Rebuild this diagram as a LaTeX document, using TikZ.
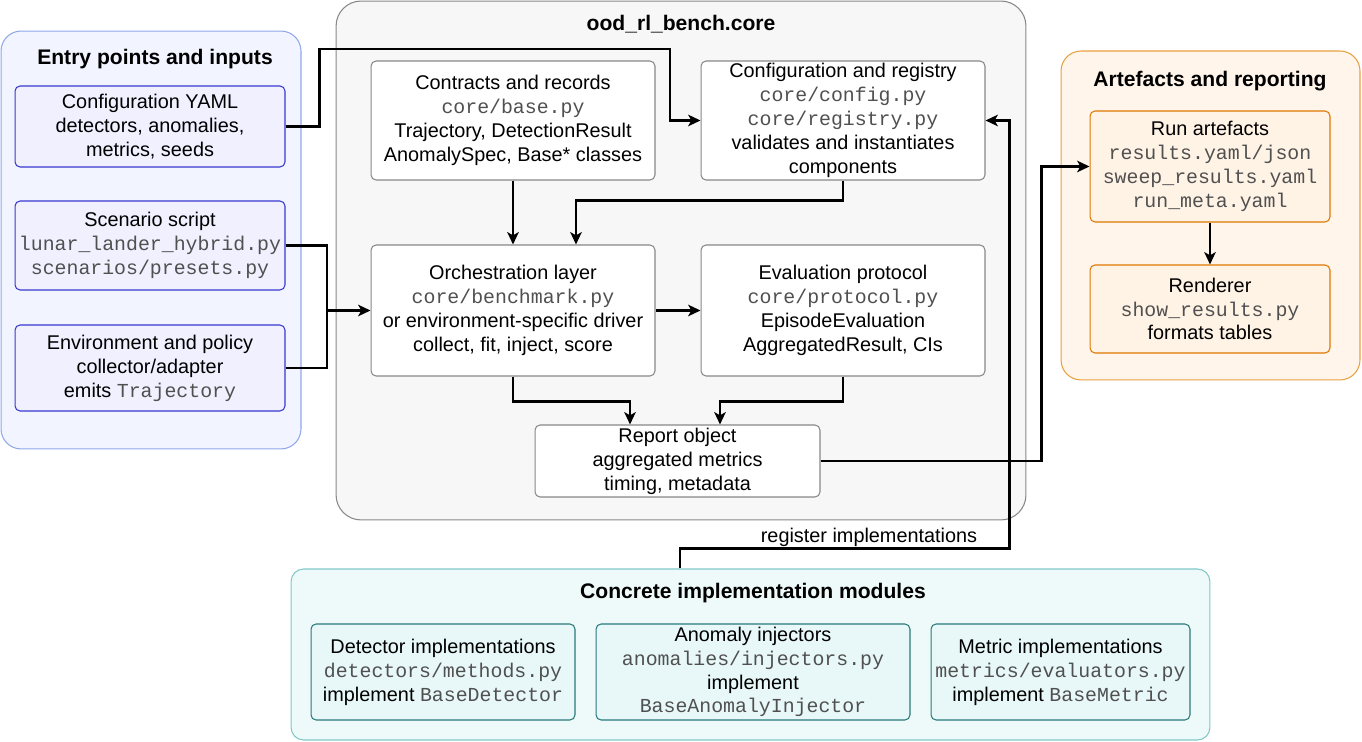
\documentclass[tikz,border=0pt]{standalone}
\usepackage{fontspec}
\setmainfont{Liberation Sans}
\setmonofont{Liberation Mono}
\usetikzlibrary{arrows.meta}

\definecolor{entryfill}{RGB}{242,245,255}
\definecolor{entryline}{RGB}{143,168,232}
\definecolor{inputfill}{RGB}{240,240,255}
\definecolor{inputline}{RGB}{56,56,208}
\definecolor{corefill}{RGB}{247,247,247}
\definecolor{coreline}{RGB}{136,136,136}
\definecolor{artfill}{RGB}{255,245,234}
\definecolor{artline}{RGB}{232,160,64}
\definecolor{outfill}{RGB}{255,243,230}
\definecolor{outline}{RGB}{224,120,0}
\definecolor{implfill}{RGB}{238,250,250}
\definecolor{implline}{RGB}{128,200,200}
\definecolor{modfill}{RGB}{232,248,248}
\definecolor{modline}{RGB}{42,122,122}
\definecolor{codegray}{RGB}{80,80,80}

\newcommand{\code}[1]{{\ttfamily\color{codegray}#1}}

\begin{document}
\begin{tikzpicture}[x=0.02cm, y=-0.02cm,
  font=\fontsize{11.3}{13.6}\selectfont,
  group/.style={draw, line width=0.6pt, rounded corners=0.4cm},
  gtitle/.style={font=\fontsize{12}{14}\selectfont\bfseries},
  box/.style={draw, line width=0.6pt, rounded corners=0.1cm, align=center, inner sep=1pt},
  inputbox/.style={box, draw=inputline, fill=inputfill, minimum width=5.4cm},
  corebox/.style={box, draw=coreline, fill=white, minimum width=5.68cm},
  outbox/.style={box, draw=outline, fill=outfill, minimum width=4.8cm},
  modbox/.style={box, draw=modline, fill=modfill, minimum height=1.92cm},
  line/.style={draw, line width=1.3pt},
  conn/.style={line, -{Stealth[length=7pt,width=6.5pt,inset=1.8pt]}},
  lbl/.style={inner sep=1pt}]
\useasboundingbox (0,0) rectangle (1362,742);

% groups
\node[group, draw=entryline, fill=entryfill, minimum width=6cm, minimum height=8.36cm] (entry) at (151,240) {};
\node[group, draw=coreline, fill=corefill, rounded corners=0.5cm, minimum width=13.8cm, minimum height=10.38cm] (core) at (681,260.5) {};
\node[group, draw=artline, fill=artfill, minimum width=5.98cm, minimum height=6.58cm] (artefacts) at (1210.5,215.5) {};
\node[group, draw=implline, fill=implfill, rounded corners=0.25cm, minimum width=18.38cm, minimum height=3.42cm] (impl) at (750.5,654.5) {};

\node[gtitle] (entrytitle) at (155,59) {Entry points and inputs};
\node[gtitle] (coretitle) at (681,24) {ood\_rl\_bench.core};
\node[gtitle] (arttitle) at (1210,81) {Artefacts and reporting};
\node[gtitle] (impltitle) at (753,593) {Concrete implementation modules};

% inputs
\node[inputbox, minimum height=1.62cm] (cfgyaml) at (150,126.5) {Configuration YAML\\detectors, anomalies,\\metrics, seeds};
\node[inputbox, minimum height=1.78cm] (scenario) at (150,245.5) {Scenario script\\\code{lunar\_lander\_hybrid.py}\\\code{scenarios/presets.py}};
\node[inputbox, minimum height=1.72cm] (envpol) at (150,368) {Environment and policy\\collector/adapter\\emits \code{Trajectory}};

% core
\node[corebox, minimum height=2.38cm] (contracts) at (513,120.5) {Contracts and records\\\code{core/base.py}\\Trajectory, DetectionResult\\AnomalySpec, Base* classes};
\node[corebox, minimum height=2.38cm] (registry) at (843,120.5) {Configuration and registry\\\code{core/config.py}\\\code{core/registry.py}\\validates and instantiates\\components};
\node[corebox, minimum height=2.62cm] (orch) at (513,310.5) {Orchestration layer\\\code{core/benchmark.py}\\or environment-specific driver\\collect, fit, inject, score};
\node[corebox, minimum height=2.62cm] (evalp) at (843,310.5) {Evaluation protocol\\\code{core/protocol.py}\\EpisodeEvaluation\\AggregatedResult, CIs};
\node[corebox, minimum width=5.7cm, minimum height=1.44cm] (report) at (677.5,461) {Report object\\aggregated metrics\\timing, metadata};

% artefacts
\node[outbox, minimum height=2.22cm] (runart) at (1210,166.5) {Run artefacts\\\code{results.yaml/json}\\\code{sweep\_results.yaml}\\\code{run\_meta.yaml}};
\node[outbox, minimum height=1.76cm] (renderer) at (1210,309) {Renderer\\\code{show\_results.py}\\formats tables};

% modules
\node[modbox, minimum width=5.28cm] (detimpl) at (443,672) {Detector implementations\\\code{detectors/methods.py}\\implement \code{BaseDetector}};
\node[modbox, minimum width=6.28cm] (injimpl) at (753,672) {Anomaly injectors\\\code{anomalies/injectors.py}\\implement\\\code{BaseAnomalyInjector}};
\node[modbox, minimum width=5.18cm] (metimpl) at (1060.5,672) {Metric implementations\\\code{metrics/evaluators.py}\\implement \code{BaseMetric}};

% connectors
\draw[conn] (cfgyaml.east) -- ++(34,0) |- (670,49) |- (registry.west);
\coordinate (join) at (327,310.5);
\draw[line] (scenario.east) -| (join);
\draw[line] (envpol.east) -| (join);
\draw[conn] (join) -- (orch.west);
\draw[conn] (contracts.south) -- (orch.north);
\draw[conn] (registry.south) -- ++(0,20) -| ([xshift=1.26cm]orch.north);
\draw[conn] (orch.east) -- (evalp.west);
\draw[conn] (orch.south) -- ++(0,25) -| ([xshift=-0.95cm]report.north);
\draw[conn] (evalp.south) -- ++(0,25) -| ([xshift=0.85cm]report.north);
\draw[conn] (report.east) -- ++(221,0) |- (runart.west);
\draw[conn] (runart.south) -- (renderer.north);
\draw[conn] ([xshift=-1.41cm]impl.north) -- ++(0,-20) -| ([xshift=0.48cm]registry.east) -- (registry.east);
\node[lbl, above] (reglbl) at (869,549) {register implementations};
\end{tikzpicture}
\end{document}
